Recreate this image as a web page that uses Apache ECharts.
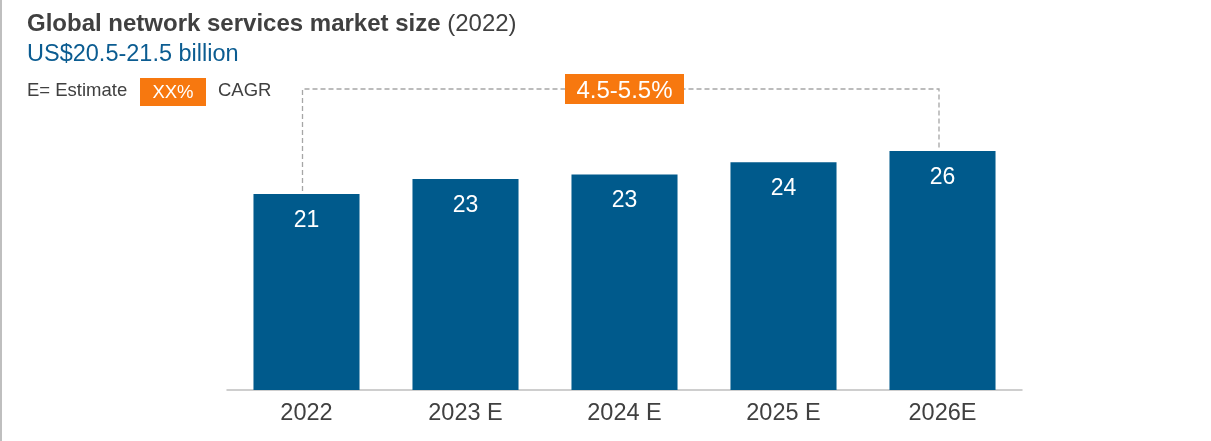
<!DOCTYPE html>
<html><head><meta charset="utf-8">
<script src="https://cdn.jsdelivr.net/npm/echarts@6/dist/echarts.min.js"></script>
<style>html,body{margin:0;padding:0;background:#fff}#c{width:1211px;height:441px}</style>
</head><body><div id="c"></div>
<script>
const categories = ['2022', '2023 E', '2024 E', '2025 E', '2026E'];
const marketSize = [21.0, 22.6, 23.1, 24.4, 25.6];
const cagrLabel = '4.5-5.5%';
const titleBold = 'Global network services market size';
const titleNormal = '(2022)';
const subtitleText = 'US$20.5-21.5 billion';
const legendEstimate = 'E= Estimate';
const legendBox = 'XX%';
const legendCagr = 'CAGR';

const FONT = '"Liberation Sans", Arial, Helvetica, sans-serif';
const BAR = '#005A8C';
const ORANGE = '#F7780F';
const DARK = '#404040';

const chart = echarts.init(document.getElementById('c'), null, {renderer: 'canvas'});
chart.setOption({
  animation: false,
  backgroundColor: '#fff',
  grid: {left: 227, right: 189, top: 110, bottom: 51, containLabel: false},
  xAxis: {
    type: 'category', data: categories,
    axisLine: {lineStyle: {color: '#BFBFBF', width: 1.5}},
    axisTick: {show: false},
    axisLabel: {color: DARK, fontSize: 23.5, fontFamily: FONT, margin: 12}
  },
  yAxis: {type: 'value', min: 0, max: 30, show: false, splitLine: {show: false}},
  series: [{
    type: 'bar', data: marketSize, barCategoryGap: '33.3%',
    itemStyle: {color: BAR},
    label: {
      show: true, position: 'insideTop', distance: 15,
      color: '#fff', fontSize: 23, fontFamily: FONT,
      formatter: p => Math.round(p.value).toString()
    }
  }]
});

const p1 = chart.convertToPixel({seriesIndex: 0}, [0, marketSize[0]]);
const p5 = chart.convertToPixel({seriesIndex: 0}, [4, marketSize[4]]);
const bracketY = 89;
const lx = p1[0] - 4, rx = p5[0] - 3.5;

chart.setOption({
  graphic: [
    {type: 'line', shape: {x1: 1, y1: 0, x2: 1, y2: 441}, style: {stroke: '#BFBFBF', lineWidth: 2}, silent: true},
    {type: 'text', x: 27, y: 24, style: {
      text: '{b|' + titleBold + '} {n|' + titleNormal + '}',
      verticalAlign: 'middle', textVerticalAlign: 'middle',
      rich: {
        b: {fontSize: 24, fontWeight: 'bold', fontFamily: FONT, fill: DARK, color: DARK},
        n: {fontSize: 24, fontFamily: FONT, fill: DARK, color: DARK}
      },
      font: '24px ' + FONT, fill: DARK
    }},
    {type: 'text', x: 27, y: 55, style: {text: subtitleText, font: '23.5px ' + FONT, fill: '#0B5C91', verticalAlign: 'middle', textVerticalAlign: 'middle'}},
    {type: 'text', x: 27, y: 91, style: {text: legendEstimate, font: '18.5px ' + FONT, fill: DARK, verticalAlign: 'middle', textVerticalAlign: 'middle'}},
    {type: 'rect', shape: {x: 140, y: 78, width: 66, height: 28}, style: {fill: ORANGE}},
    {type: 'text', x: 173, y: 93, style: {text: legendBox, font: '18.5px ' + FONT, fill: '#fff', align: 'center', textAlign: 'center', verticalAlign: 'middle', textVerticalAlign: 'middle'}},
    {type: 'text', x: 218, y: 91, style: {text: legendCagr, font: '18.5px ' + FONT, fill: DARK, verticalAlign: 'middle', textVerticalAlign: 'middle'}},
    {type: 'polyline', shape: {points: [[lx, p1[1] - 3], [lx, bracketY], [rx, bracketY], [rx, p5[1] - 3]]},
      style: {stroke: '#A6A6A6', lineWidth: 1.3, lineDash: [5, 3], fill: null}, silent: true},
    {type: 'rect', shape: {x: 565, y: 74, width: 119, height: 30}, style: {fill: ORANGE}},
    {type: 'text', x: 624.5, y: 91, style: {text: cagrLabel, font: '24px ' + FONT, fill: '#fff', align: 'center', textAlign: 'center', verticalAlign: 'middle', textVerticalAlign: 'middle'}}
  ]
});
</script>
</body></html>
